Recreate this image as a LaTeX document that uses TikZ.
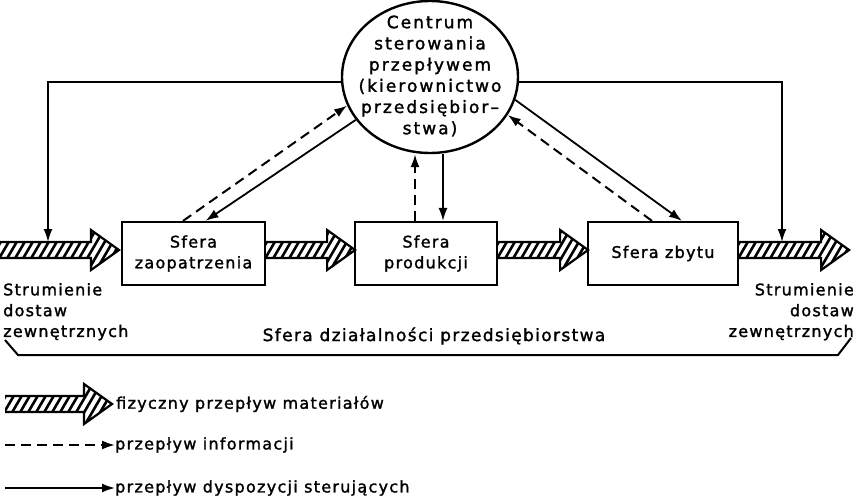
\documentclass[tikz,border=0pt]{standalone}
\usepackage{fontspec}
\setmainfont{DejaVu Sans}[LetterSpace=8,FakeBold=1.6]
\usetikzlibrary{arrows.meta,shapes.geometric}

\newcommand{\lblfont}{\fontsize{16}{20.8}\selectfont}

\tikzset{
  box/.style={draw, line width=2.2pt, inner sep=0pt, minimum height=63pt,
              align=center, font=\lblfont},
  ctrl/.style={line width=1.8pt, -{Latex[length=13pt,width=9pt]}},
  info/.style={line width=2pt, dash pattern=on 10pt off 6pt,
               -{Latex[length=13pt,width=9pt]}},
  txt/.style={inner sep=0pt, font=\lblfont},
  bracket/.style={line width=2pt, line join=round},
  % hatched material-flow arrow, tail at the pic origin, tip at (#1,0)
  hatched/.pic={
    \begin{scope}
      \clip (0,-8) -- (#1-28,-8) -- (#1-28,-20) -- (#1,0)
            -- (#1-28,20) -- (#1-28,8) -- (0,8) -- cycle;
      \foreach \i in {-42,-34,...,#1}
        \draw[line width=2.6pt] (\i,24) -- (\i+28,-24);
    \end{scope}
    \draw[line width=2.2pt, line join=miter]
      (0,-8) -- (#1-28,-8) -- (#1-28,-20) -- (#1,0)
      -- (#1-28,20) -- (#1-28,8) -- (0,8);
  }
}

\begin{document}
\begin{tikzpicture}[x=1pt,y=-1pt]
\useasboundingbox (0,0) rectangle (857,501);
\fill[white] (0,0) rectangle (857,501);

% control centre
\node[draw, ellipse, line width=2.4pt, minimum width=176pt,
      minimum height=152pt, inner sep=0pt] (c) at (430,77) {};
\node[txt, align=center,
      font=\fontsize{17}{21.2}\selectfont\addfontfeatures{LetterSpace=12}]
  (ctext) at ([yshift=1pt]c.center)
  {Centrum\\sterowania\\przepływem\\(kierownictwo\\przedsiębior--\\stwa)};

% the three spheres
\node[box, minimum width=143pt] (b1) at (193.5,253.5) {Sfera\\zaopatrzenia};
\node[box, minimum width=142pt] (b2) at (426,253.5) {Sfera\\produkcji};
\node[box, minimum width=150pt] (b3) at (663,253.5) {Sfera zbytu};

% physical material flow
\pic at (0,250) {hatched=119};
\pic at (b1.east |- 0,250) {hatched=89};
\pic at (b2.east |- 0,250) {hatched=90};
\pic at (b3.east |- 0,250) {hatched=110};

% control lines to the external supply streams
\coordinate (dropL) at (48,242);
\coordinate (dropR) at (782,242);
\draw[ctrl] (c.183) -| (dropL);
\draw[ctrl] (c.357) -| (dropR);

% information and control between centre and spheres
\draw[info] ([xshift=-10.5pt]b1.north) -- (c.199);
\draw[ctrl] (c.210) -- ([xshift=12pt]b1.north);
\draw[info] ([xshift=-11pt]b2.north) -- ([xshift=-11pt]b2.north |- c.south);
\draw[ctrl] ([xshift=17pt]b2.north |- c.south) -- ([xshift=17pt]b2.north);
\draw[ctrl] (c.345) -- ([xshift=19pt]b3.north);
\draw[info] ([xshift=-11pt]b3.north) -- (c.334);

% side labels
\node[txt, anchor=north west, align=left] (srcL) at (3,283)
  {Strumienie\\dostaw\\zewnętrznych};
\node[txt, anchor=north east, align=right] (srcR) at (854,283)
  {Strumienie\\dostaw\\zewnętrznych};

% sphere of activity with its bracket
\node[inner sep=0pt, font=\fontsize{17}{20}\selectfont\addfontfeatures{LetterSpace=8}]
  (sfera) at (434,336) {Sfera działalności przedsiębiorstwa};
\coordinate (br1) at (5,340);
\coordinate (br2) at (18,355);
\coordinate (br3) at (838,355);
\coordinate (br4) at (851,338);
\draw[bracket] (br1) -- (br2) -- (br3) -- (br4);

% legend
\pic at (5,404) {hatched=107};
\node[txt, anchor=west] (lg1) at (116,404) {fizyczny przepływ materiałów};
\coordinate (lg2a) at (5,445);
\node[txt, anchor=west] (lg2) at (115,445) {przepływ informacji};
\draw[info] (lg2a) -- (lg2.west);
\coordinate (lg3a) at (5,488);
\node[txt, anchor=west] (lg3) at (115,488) {przepływ dyspozycji sterujących};
\draw[ctrl] (lg3a) -- (lg3.west);
\end{tikzpicture}
\end{document}
